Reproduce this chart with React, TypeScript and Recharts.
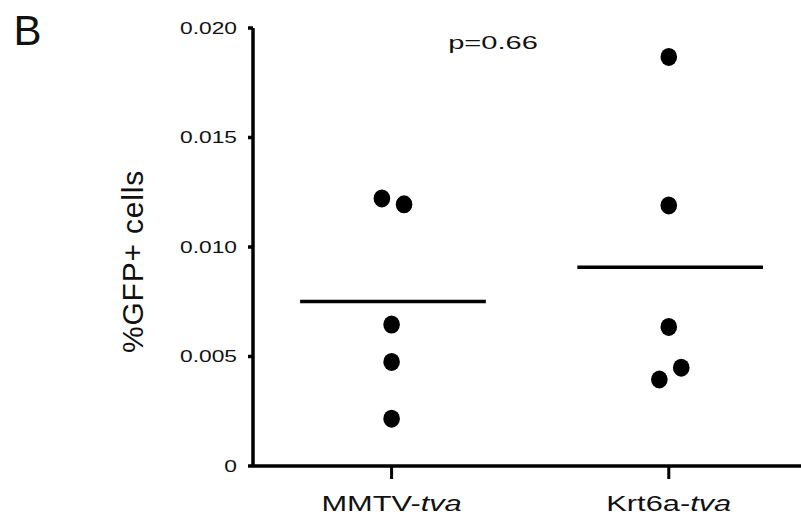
import {
  ScatterChart,
  Scatter,
  XAxis,
  YAxis,
  ReferenceLine,
  Customized,
} from "recharts"

// groups along the x axis
const categories = ["MMTV", "Krt6a"]
const categorySuffix = "tva"

// %GFP+ cells per animal
const mmtvValues = [0.01222, 0.01195, 0.00646, 0.00475, 0.00216]
const krt6aValues = [0.01868, 0.0119, 0.00635, 0.00449, 0.00395]

// horizontal spread of overlapping dots (in category units)
const mmtvJitter = [-0.035, 0.045, 0, 0, 0]
const krt6aJitter = [0, 0, 0, 0.045, -0.034]

const yTicks = [0, 0.005, 0.01, 0.015, 0.02]
const panelLetter = "B"
const yTitle = "%GFP+ cells"
const pValueText = "p=0.66"

const FONT = "'Liberation Sans', Arial, Helvetica, sans-serif"

function mean(values: number[]) {
  return values.reduce((a, v) => a + v, 0) / values.length
}

const mmtvData = mmtvValues.map((v, i) => ({ x: 0 + mmtvJitter[i], y: v }))
const krt6aData = krt6aValues.map((v, i) => ({ x: 1 + krt6aJitter[i], y: v }))
const means = [mean(mmtvValues), mean(krt6aValues)]

function Dot(props: any) {
  const { cx, cy } = props
  return <ellipse cx={cx} cy={cy} rx={8.3} ry={9} fill="#000" />
}

function XTick(props: any) {
  const { x, y, payload } = props
  const name = categories[payload.value]
  return (
    <g transform={`translate(${x},${y + 30}) scale(1.4,1)`}>
      <text textAnchor="middle" fontSize={22} fontFamily={FONT} fill="#111">
        {name}-<tspan fontStyle="italic">{categorySuffix}</tspan>
      </text>
    </g>
  )
}

function YTick(props: any) {
  const { x, y, payload } = props
  const label = payload.value === 0 ? "0" : payload.value.toFixed(3)
  return (
    <g transform={`translate(${x},${y}) scale(1.38,1)`}>
      <text
        textAnchor="end"
        dy="0.36em"
        fontSize={16.5}
        fontFamily={FONT}
        fill="#111"
      >
        {label}
      </text>
    </g>
  )
}

function Annotations() {
  return (
    <g fontFamily={FONT} fill="#111">
      <text x={13.5} y={45} fontSize={42}>
        {panelLetter}
      </text>
      <text
        x={143}
        y={261.5}
        fontSize={30}
        letterSpacing={0.8}
        textAnchor="middle"
        transform="rotate(-90 143 261.5)"
      >
        {yTitle}
      </text>
      <g transform="translate(493,49.3) scale(1.53,1)">
        <text textAnchor="middle" fontSize={19}>
          {pValueText}
        </text>
      </g>
    </g>
  )
}

export default function App() {
  return (
    <div style={{ width: 801, height: 518, background: "#fff" }}>
      <style>{"body{margin:0}"}</style>
      <ScatterChart
        width={801}
        height={518}
        margin={{ top: 28, right: 0, bottom: 0, left: 0 }}
      >
        <XAxis
          type="number"
          dataKey="x"
          domain={[-0.5, 1.477]}
          allowDataOverflow
          ticks={[0, 1]}
          height={52}
          tick={<XTick />}
          tickSize={13}
          tickMargin={2}
          axisLine={{ stroke: "#000", strokeWidth: 3.5 }}
          tickLine={{ stroke: "#000", strokeWidth: 3 }}
        />
        <YAxis
          type="number"
          dataKey="y"
          domain={[0, 0.02]}
          allowDataOverflow
          ticks={yTicks}
          width={253}
          tick={<YTick />}
          tickSize={5}
          tickMargin={11}
          axisLine={{ stroke: "#000", strokeWidth: 3.5 }}
          tickLine={{ stroke: "#000", strokeWidth: 3.5 }}
        />
        {means.map((m, i) => (
          <ReferenceLine
            key={i}
            segment={[
              { x: i - 0.33, y: m },
              { x: i + 0.34, y: m },
            ]}
            stroke="#000"
            strokeWidth={3.5}
            ifOverflow="visible"
          />
        ))}
        <Scatter data={mmtvData} shape={<Dot />} isAnimationActive={false} />
        <Scatter data={krt6aData} shape={<Dot />} isAnimationActive={false} />
        <Customized component={Annotations} />
      </ScatterChart>
    </div>
  )
}
